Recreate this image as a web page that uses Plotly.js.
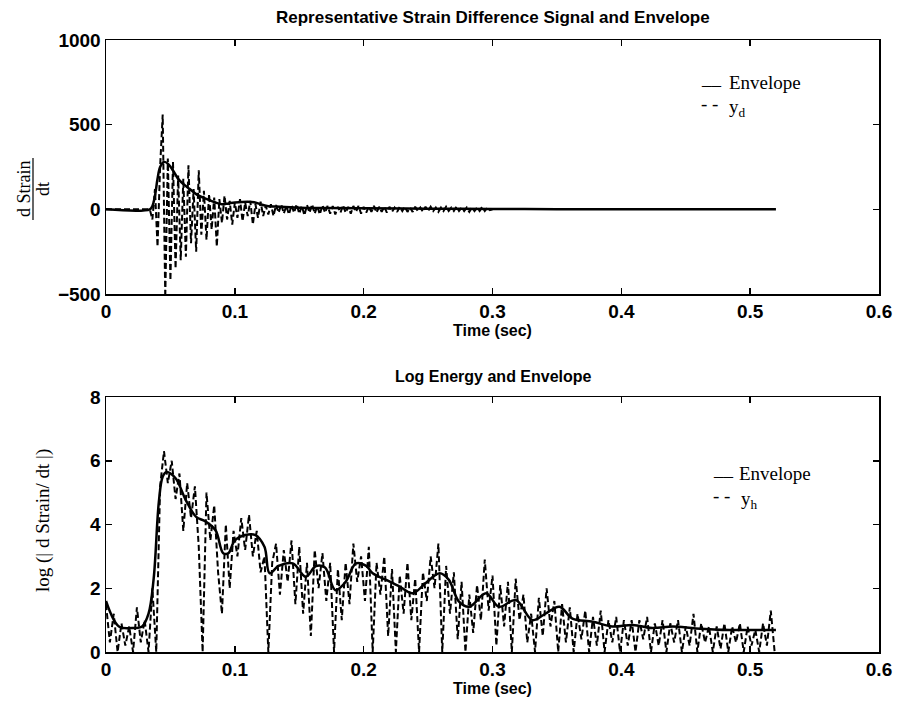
<!DOCTYPE html>
<html>
<head>
<meta charset="utf-8">
<script src="https://cdn.plot.ly/plotly-3.0.1.min.js"></script>
<style>html,body{margin:0;padding:0;background:#fff;}#chart{width:903px;height:707px;}</style>
</head>
<body>
<div id="chart"></div>
<script>
// ---- Top panel: strain difference signal y_d (dashed) and its envelope (solid)
const ydTime = [0.000,0.034,0.036,0.038,0.040,0.042,0.044,0.046,0.048,0.050,0.052,0.054,0.056,0.058,0.060,0.062,0.064,0.066,0.068,0.070,0.072,0.074,0.076,0.078,0.080,0.082,0.084,0.086,0.088,0.090,0.092,0.094,0.096,0.098,0.100,0.102,0.104,0.106,0.108,0.110,0.112,0.114,0.116,0.118,0.120,0.122,0.124,0.126,0.128,0.130,0.132,0.134,0.136,0.138,0.140,0.142,0.144,0.146,0.148,0.150,0.152,0.154,0.156,0.158,0.160,0.162,0.164,0.166,0.168,0.170,0.172,0.174,0.176,0.178,0.180,0.182,0.184,0.186,0.188,0.190,0.192,0.194,0.196,0.198,0.200,0.202,0.204,0.206,0.208,0.210,0.212,0.214,0.216,0.218,0.220,0.222,0.224,0.226,0.228,0.230,0.232,0.234,0.236,0.238,0.240,0.242,0.244,0.246,0.248,0.250,0.252,0.254,0.256,0.258,0.260,0.262,0.264,0.266,0.268,0.270,0.272,0.274,0.276,0.278,0.280,0.282,0.284,0.286,0.288,0.290,0.292,0.294,0.296,0.298,0.300];
const ydValues = [0,0,-60,120,-220,250,560,-520,300,-420,280,-350,200,-300,180,-280,260,-200,120,-250,230,-150,110,-180,90,-120,70,-220,60,-80,80,-60,50,-90,40,-50,60,-70,40,-40,50,-90,30,-50,45,-40,20,-30,30,-40,25,-20,30,-25,20,-30,25,-20,30,-25,20,-35,25,-20,30,-25,20,-30,25,-20,20,-25,20,-30,15,-20,25,-20,15,-25,20,-15,20,-25,15,-20,15,-15,20,-20,15,-15,15,-20,15,-15,10,-15,15,-10,15,-15,10,-15,15,-10,10,-15,15,-10,15,-10,10,-15,10,-10,15,-10,10,-10,15,-10,10,-10,10,-15,10,-10,10,-10,15,-10,10,-5,0];
const envTopTime = [0.000,0.034,0.036,0.038,0.040,0.042,0.045,0.048,0.052,0.056,0.060,0.065,0.070,0.075,0.080,0.085,0.090,0.095,0.100,0.110,0.115,0.120,0.125,0.135,0.150,0.170,0.200,0.250,0.300,0.350,0.400,0.520];
const envTopValues = [0,0,20,80,180,250,280,270,230,180,150,120,90,70,55,40,30,35,40,45,42,30,20,15,10,8,6,4,2,1,0,0];

// ---- Bottom panel: log energy y_h (dashed) and its envelope (solid)
const yhTime = [0.000,0.003,0.006,0.009,0.012,0.015,0.018,0.021,0.024,0.027,0.030,0.033,0.036,0.039,0.042,0.045,0.048,0.051,0.054,0.057,0.060,0.063,0.066,0.069,0.072,0.075,0.078,0.081,0.084,0.087,0.090,0.093,0.096,0.099,0.102,0.105,0.108,0.111,0.114,0.117,0.120,0.123,0.126,0.129,0.132,0.135,0.138,0.141,0.144,0.147,0.150,0.153,0.156,0.159,0.162,0.165,0.168,0.171,0.174,0.177,0.180,0.183,0.186,0.189,0.192,0.195,0.198,0.201,0.204,0.207,0.210,0.213,0.216,0.219,0.222,0.225,0.228,0.231,0.234,0.237,0.240,0.243,0.246,0.249,0.252,0.255,0.258,0.261,0.264,0.267,0.270,0.273,0.276,0.279,0.282,0.285,0.288,0.291,0.294,0.297,0.300,0.303,0.306,0.309,0.312,0.315,0.318,0.321,0.324,0.327,0.330,0.333,0.336,0.339,0.342,0.345,0.348,0.351,0.354,0.357,0.360,0.363,0.366,0.369,0.372,0.375,0.378,0.381,0.384,0.387,0.390,0.393,0.396,0.399,0.402,0.405,0.408,0.411,0.414,0.417,0.420,0.423,0.426,0.429,0.432,0.435,0.438,0.441,0.444,0.447,0.450,0.453,0.456,0.459,0.462,0.465,0.468,0.471,0.474,0.477,0.480,0.483,0.486,0.489,0.492,0.495,0.498,0.501,0.504,0.507,0.510,0.513,0.516,0.519];
const yhValues = [1.5,0.3,1.2,0.0,0.9,0.2,0.8,0.0,1.4,0.3,1.0,0.0,2.0,0.0,5.2,6.3,5.3,6.0,4.8,5.6,3.8,5.3,4.2,5.2,3.3,0.0,5.0,3.5,4.6,2.5,1.2,4.0,2.0,3.8,3.0,4.2,3.2,4.3,3.0,3.8,2.5,3.0,0.0,2.8,3.4,1.8,3.2,2.2,3.5,1.5,3.3,1.2,2.8,0.5,3.2,2.0,3.1,1.6,2.8,0.0,2.6,1.0,2.8,1.5,3.4,2.2,3.0,1.6,3.3,0.0,2.8,1.8,3.0,0.5,2.6,0.0,2.4,1.2,2.8,1.0,2.3,0.0,2.5,1.6,3.0,2.0,3.4,0.0,2.7,1.2,2.5,0.4,2.2,0.0,1.8,0.6,2.1,1.0,2.9,1.3,2.4,0.2,2.1,0.8,2.2,0.0,2.3,1.0,1.8,0.3,1.2,0.0,1.7,0.5,2.0,0.8,1.6,0.0,1.5,0.3,1.4,0.0,1.2,0.4,1.3,0.0,1.1,0.2,1.3,0.0,1.0,0.3,1.1,0.0,1.0,0.2,1.0,0.0,1.0,0.4,1.1,0.0,0.9,0.2,1.0,0.0,0.9,0.3,1.0,0.0,0.8,0.2,1.2,0.0,0.9,0.3,0.8,0.0,0.8,0.1,0.9,0.0,0.8,0.3,0.9,0.0,0.8,0.2,0.7,0.0,0.9,0.2,1.3,0.0];
const envBotTime = [0.000,0.010,0.020,0.028,0.033,0.037,0.041,0.044,0.047,0.054,0.062,0.070,0.077,0.085,0.091,0.095,0.100,0.108,0.116,0.123,0.127,0.134,0.145,0.155,0.163,0.170,0.178,0.186,0.194,0.202,0.207,0.217,0.228,0.238,0.248,0.259,0.266,0.274,0.282,0.295,0.305,0.318,0.331,0.341,0.352,0.362,0.378,0.393,0.409,0.424,0.440,0.458,0.484,0.505,0.520];
const envBotValues = [1.6,0.8,0.75,0.8,1.2,2.3,4.7,5.5,5.65,5.45,4.76,4.24,4.1,3.82,3.1,3.1,3.5,3.67,3.67,3.3,2.47,2.7,2.78,2.36,2.7,2.65,1.94,2.2,2.78,2.7,2.47,2.27,2.05,1.84,2.16,2.47,2.27,1.58,1.42,1.84,1.42,1.63,1.0,1.2,1.42,1.05,0.95,0.8,0.85,0.75,0.8,0.74,0.69,0.69,0.69];

// ---- Text
const topTitle = "Representative Strain Difference Signal and Envelope";
const botTitle = "Log Energy and Envelope";
const xTitle = "Time (sec)";
const topYNum = "d Strain";
const topYDen = "dt";
const botYTitle = "log (| d Strain/ dt |)";

const W = 903, H = 707;
const px = v => v / W, py = v => 1 - v / H;

const serif = "Liberation Serif, Times New Roman, serif";
const sans = "Liberation Sans, Arial, Helvetica, sans-serif";
const dashStyle = "6px,3px";

const traces = [
  {x: ydTime, y: ydValues, xaxis: 'x', yaxis: 'y', mode: 'lines', line: {color: '#000', width: 2, dash: dashStyle}, name: 'y_d', showlegend: false},
  {x: envTopTime, y: envTopValues, xaxis: 'x', yaxis: 'y', mode: 'lines', line: {color: '#000', width: 2.5, shape: 'spline'}, name: 'Envelope', showlegend: false},
  {x: yhTime, y: yhValues, xaxis: 'x2', yaxis: 'y2', mode: 'lines', line: {color: '#000', width: 2, dash: dashStyle}, name: 'y_h', showlegend: false},
  {x: envBotTime, y: envBotValues, xaxis: 'x2', yaxis: 'y2', mode: 'lines', line: {color: '#000', width: 2.5, shape: 'spline'}, name: 'Envelope', showlegend: false}
];

const tickFont = {family: sans, size: 19, color: '#000', weight: 'bold'};
const axisCommon = {
  showline: true, linecolor: '#000', linewidth: 1.5, mirror: 'ticks',
  ticks: 'inside', ticklen: 6, tickcolor: '#000', tickwidth: 1.5,
  showgrid: false, zeroline: false, fixedrange: true,
  tickfont: tickFont
};
const xTitleFont = {family: sans, size: 16, color: '#000', weight: 'bold'};
const legFont = {family: serif, size: 19, color: '#000'};

const layout = {
  width: W, height: H,
  margin: {l: 0, r: 0, t: 0, b: 0},
  paper_bgcolor: '#fff', plot_bgcolor: '#fff',
  showlegend: false,
  xaxis: Object.assign({}, axisCommon, {domain: [px(106), px(879)], range: [0, 0.6], dtick: 0.1, tick0: 0, anchor: 'y',
    title: {text: xTitle, font: xTitleFont, standoff: 2}}),
  yaxis: Object.assign({}, axisCommon, {domain: [py(294), py(40)], range: [-500, 1000], dtick: 500, tick0: 0, anchor: 'x'}),
  xaxis2: Object.assign({}, axisCommon, {domain: [px(106), px(879)], range: [0, 0.6], dtick: 0.1, tick0: 0, anchor: 'y2',
    title: {text: xTitle, font: xTitleFont, standoff: 2}}),
  yaxis2: Object.assign({}, axisCommon, {domain: [py(652), py(397)], range: [0, 8], dtick: 2, tick0: 0, anchor: 'x2'}),
  annotations: [
    {text: topTitle, xref: 'paper', yref: 'paper', x: px(493), y: py(17), xanchor: 'center', yanchor: 'middle', showarrow: false, font: {family: sans, size: 17, color: '#000', weight: 'bold'}},
    {text: botTitle, xref: 'paper', yref: 'paper', x: px(493), y: py(376), xanchor: 'center', yanchor: 'middle', showarrow: false, font: {family: sans, size: 16, color: '#000', weight: 'bold'}},
    // top y label (fraction)
    {text: topYNum, xref: 'paper', yref: 'paper', x: px(24), y: py(189), textangle: -90, xanchor: 'center', yanchor: 'middle', showarrow: false, font: {family: serif, size: 18, color: '#000'}},
    {text: topYDen, xref: 'paper', yref: 'paper', x: px(43), y: py(189), textangle: -90, xanchor: 'center', yanchor: 'middle', showarrow: false, font: {family: serif, size: 18, color: '#000'}},
    // bottom y label
    {text: botYTitle, xref: 'paper', yref: 'paper', x: px(43), y: py(521), textangle: -90, xanchor: 'center', yanchor: 'middle', showarrow: false, font: {family: serif, size: 19, color: '#000'}},
    // top legend
    {text: '__', xref: 'paper', yref: 'paper', x: px(699), y: py(78), xanchor: 'left', yanchor: 'middle', showarrow: false, font: legFont},
    {text: 'Envelope', xref: 'paper', yref: 'paper', x: px(727), y: py(82), xanchor: 'left', yanchor: 'middle', showarrow: false, font: legFont},
    {text: '- -', xref: 'paper', yref: 'paper', x: px(699), y: py(104), xanchor: 'left', yanchor: 'middle', showarrow: false, font: legFont},
    {text: 'y<sub>d</sub>', xref: 'paper', yref: 'paper', x: px(727), y: py(108), xanchor: 'left', yanchor: 'middle', showarrow: false, font: legFont},
    // bottom legend
    {text: '__', xref: 'paper', yref: 'paper', x: px(711), y: py(469), xanchor: 'left', yanchor: 'middle', showarrow: false, font: legFont},
    {text: 'Envelope', xref: 'paper', yref: 'paper', x: px(737), y: py(473), xanchor: 'left', yanchor: 'middle', showarrow: false, font: legFont},
    {text: '- -', xref: 'paper', yref: 'paper', x: px(711), y: py(495), xanchor: 'left', yanchor: 'middle', showarrow: false, font: legFont},
    {text: 'y<sub>h</sub>', xref: 'paper', yref: 'paper', x: px(739), y: py(500), xanchor: 'left', yanchor: 'middle', showarrow: false, font: legFont}
  ],
  shapes: [
    {type: 'line', xref: 'paper', yref: 'paper', x0: px(33), x1: px(33), y0: py(158), y1: py(220), line: {color: '#000', width: 1.2}}
  ]
};

Plotly.newPlot('chart', traces, layout, {displayModeBar: false, staticPlot: true});
</script>
</body>
</html>
